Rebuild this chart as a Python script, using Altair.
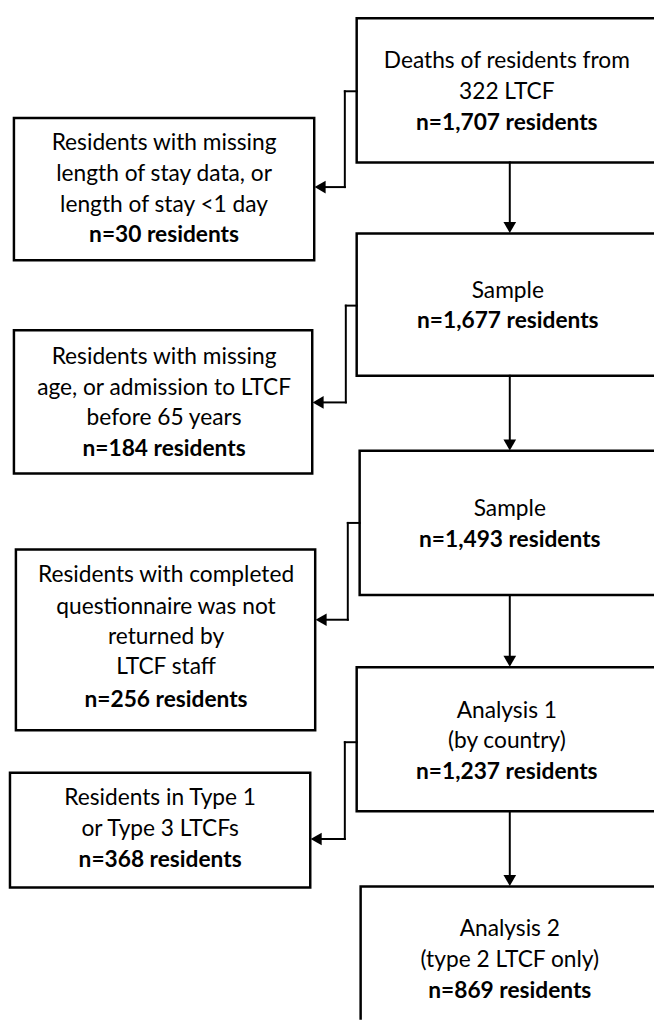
import altair as alt
import pandas as pd

# ---- content ----
main_lines = [
    ["Deaths of residents from", "322 LTCF", "n=1,707 residents"],
    ["Sample", "n=1,677 residents"],
    ["Sample", "n=1,493 residents"],
    ["Analysis 1", "(by country)", "n=1,237 residents"],
    ["Analysis 2", "(type 2 LTCF only)", "n=869 residents"],
]
excl_lines = [
    ["Residents with missing", "length of stay data, or", "length of stay <1 day", "n=30 residents"],
    ["Residents with missing", "age, or admission to LTCF", "before 65 years", "n=184 residents"],
    ["Residents with completed", "questionnaire was not", "returned by", "LTCF staff", "n=256 residents"],
    ["Residents in Type 1", "or Type 3 LTCFs", "n=368 residents"],
]

# ---- layout (reference pixel coordinates) ----
main_boxes = [(361, 12, 700, 158), (361, 230, 700, 374), (364, 450, 700, 596),
              (361, 669, 700, 815), (365, 891, 700, 1100)]
main_text_x = [513, 514, 516, 513, 516]
main_text_y = [[55, 87, 118], [288, 319], [509, 540], [713, 744, 775], [934, 966, 997]]

excl_boxes = [(14, 113, 318, 257), (14, 328, 316, 473), (16, 550, 319, 733), (10, 776, 314, 892)]
excl_text_x = [166, 166, 168, 162]
excl_text_y = [[138, 170, 201, 232], [355, 386, 417, 448], [576, 608, 639, 669, 702], [802, 833, 864]]

down_x = 516
connectors = [  # (box left x, start y, vertical x, end y, tip x)
    (361, 86, 349, 183, 318),
    (361, 303, 350, 401, 316),
    (364, 523, 352, 621, 319),
    (361, 745, 349, 843, 314),
]

boxes = pd.DataFrame(
    [dict(x=a, y=b, x2=c, y2=d) for (a, b, c, d) in main_boxes + excl_boxes]
)

texts = []
for lines, cx, ys in zip(main_lines + excl_lines, main_text_x + excl_text_x, main_text_y + excl_text_y):
    for i, (t, yy) in enumerate(zip(lines, ys)):
        texts.append(dict(x=cx, y=yy, t=t, bold=(i == len(lines) - 1)))
texts = pd.DataFrame(texts)

segs = []
for i in range(4):
    y_from = main_boxes[i][3]
    y_to = main_boxes[i + 1][1]
    segs.append(dict(x=down_x, y=y_from, x2=down_x, y2=y_to - 9))
for (bx, sy, vx, ey, tx) in connectors:
    segs.append(dict(x=bx, y=sy, x2=vx, y2=sy))
    segs.append(dict(x=vx, y=sy, x2=vx, y2=ey))
    segs.append(dict(x=vx, y=ey, x2=tx + 9, y2=ey))
segs = pd.DataFrame(segs)

heads_down = pd.DataFrame([dict(x=down_x, y=main_boxes[i + 1][1] - 6) for i in range(4)])
heads_left = pd.DataFrame([dict(x=tx + 6, y=ey) for (_, _, _, ey, tx) in connectors])

W, H = 654, 1018
xs = alt.Scale(domain=[8, 8 + W], nice=False, zero=False)
ys = alt.Scale(domain=[8, 8 + H], nice=False, zero=False, reverse=True)
X = lambda f: alt.X(f, type="quantitative", scale=xs, axis=None)
Y = lambda f: alt.Y(f, type="quantitative", scale=ys, axis=None)

rects = alt.Chart(boxes).mark_rect(fill="white", stroke="black", strokeWidth=2.5, clip=True).encode(
    x=X("x"), x2="x2", y=Y("y"), y2="y2")

rules = alt.Chart(segs).mark_rule(color="black", strokeWidth=2, strokeCap="square").encode(
    x=X("x"), x2="x2", y=Y("y"), y2="y2")

hd = alt.Chart(heads_down).mark_point(shape="triangle-down", filled=True, color="black",
                                       size=165, opacity=1).encode(x=X("x"), y=Y("y"))
hl = alt.Chart(heads_left).mark_point(shape="triangle-left", filled=True, color="black",
                                       size=165, opacity=1).encode(x=X("x"), y=Y("y"))

font = "Lato"
fs = 23
t_norm = alt.Chart(texts[~texts.bold]).mark_text(font=font, fontSize=fs, color="black",
                                                  baseline="middle", align="center").encode(
    x=X("x"), y=Y("y"), text="t:N")
t_bold = alt.Chart(texts[texts.bold]).mark_text(font=font, fontSize=fs, fontWeight="bold",
                                                color="black", baseline="middle", align="center").encode(
    x=X("x"), y=Y("y"), text="t:N")

chart = alt.layer(rects, rules, hd, hl, t_norm, t_bold).properties(
    width=W, height=H, padding=0, autosize=alt.AutoSizeParams(type="none")
).configure_view(stroke=None)

chart.save("out.html", embed_options={"renderer": "svg", "actions": False})
